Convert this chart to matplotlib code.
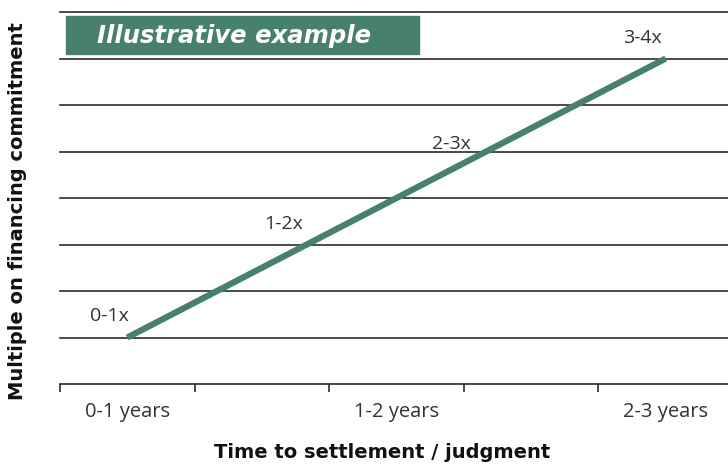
import matplotlib
matplotlib.use('Agg')
import matplotlib.pyplot as plt
from matplotlib.patches import Rectangle

# categories on the x axis, one every other interval
periods = ['0-1 years', '1-2 years', '2-3 years']
period_pos = [0.5, 2.5, 4.5]
tick_pos = [0, 1, 2, 3, 4, 5]

# the line: from 0-1x to 3-4x
line_x = [0.5, 4.5]
line_y = [1, 7]

# range labels along the line
multiples = ['0-1x', '1-2x', '2-3x', '3-4x']
multiple_x = [0.37, 1.66, 2.91, 4.33]
multiple_y = [1.47, 3.44, 5.17, 7.45]

green = '#47806E'
dark = '#2b2b2b'

plt.rcParams['font.family'] = ['Open Sans', 'DejaVu Sans']

fig = plt.figure(figsize=(7.28, 4.66), dpi=100)
ax = fig.add_axes([60 / 728, 1 - 384 / 466, 673 / 728, 372 / 466])
ax.set_xlim(0, 5)
ax.set_ylim(0, 8)

# horizontal gridlines
for g in range(1, 9):
    ax.axhline(g, color=dark, lw=1.2, zorder=1, clip_on=False)

ax.plot(line_x, line_y, color=green, lw=4.5, solid_capstyle='butt', zorder=3)

for t, x, y in zip(multiples, multiple_x, multiple_y):
    ax.text(x, y, t, ha='center', va='center', fontsize=14, color='#333333')

ax.spines['top'].set_visible(False)
ax.spines['right'].set_visible(False)
ax.spines['left'].set_visible(False)
ax.spines['bottom'].set_color(dark)
ax.spines['bottom'].set_linewidth(1.2)
ax.set_yticks([])
ax.set_xticks(tick_pos)
ax.set_xticklabels([])
ax.tick_params(axis='x', length=6, width=1.2, color=dark)
for p, lab in zip(period_pos, periods):
    ax.text(p, -0.6, lab, ha='center', va='center', fontsize=14.5, color='#333333')

# title box
fig.patches.append(Rectangle((66 / 728, 1 - 54 / 466), 353 / 728, 38 / 466,
                             transform=fig.transFigure, color=green, zorder=5))
fig.text(97 / 728, 1 - 36 / 466, 'Illustrative example', ha='left', va='center',
         fontsize=17.5, color='white', fontweight='bold', fontstyle='italic',
         family='DejaVu Sans', zorder=6)

fig.text(382 / 728, 1 - 453 / 466, 'Time to settlement / judgment', ha='center', va='center',
         fontsize=14, fontweight='bold', color='#111111', family='DejaVu Sans')
fig.text(18 / 728, 1 - 211 / 466, 'Multiple on financing commitment', ha='center', va='center',
         rotation=90, fontsize=14, fontweight='bold', color='#111111', family='DejaVu Sans')

fig.savefig('out.png', dpi=100)
